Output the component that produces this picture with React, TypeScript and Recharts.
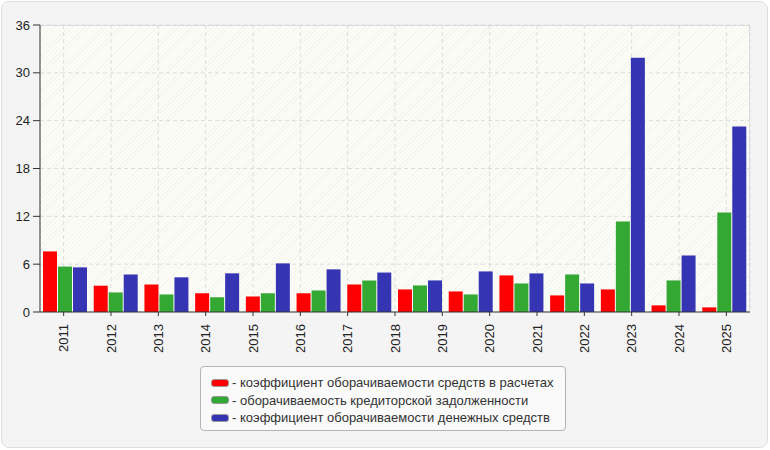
import { Bar, BarChart, CartesianGrid, XAxis, YAxis } from 'recharts';

const years = ['2011', '2012', '2013', '2014', '2015', '2016', '2017', '2018', '2019', '2020', '2021', '2022', '2023', '2024', '2025'];

// the source chart draws 14 bar groups under 15 year labels
const settlementTurnover = [7.6, 3.3, 3.45, 2.35, 1.95, 2.35, 3.45, 2.83, 2.58, 4.59, 2.08, 2.83, 0.83, 0.58];
const payablesTurnover = [5.7, 2.45, 2.2, 1.85, 2.35, 2.7, 3.95, 3.33, 2.2, 3.58, 4.71, 11.35, 3.96, 12.48];
const cashTurnover = [5.6, 4.7, 4.35, 4.85, 6.1, 5.35, 4.95, 3.96, 5.09, 4.84, 3.58, 31.9, 7.09, 23.26];

const yTicks = [0, 6, 12, 18, 24, 30, 36];

const series = [
  { key: 'settlement', name: 'коэффициент оборачиваемости средств в расчетах', color: '#ff0000', values: settlementTurnover },
  { key: 'payables', name: 'оборачиваемость кредиторской задолженности', color: '#33a833', values: payablesTurnover },
  { key: 'cash', name: 'коэффициент оборачиваемости денежных средств', color: '#3535b4', values: cashTurnover },
];

const rows = settlementTurnover.map((_, i) => ({
  idx: i,
  settlement: settlementTurnover[i],
  payables: payablesTurnover[i],
  cash: cashTurnover[i],
}));

const FONT = '"Liberation Sans", Arial, sans-serif';

const YearTick = (props: any) => {
  const { x, y, payload } = props;
  return (
    <text
      x={0}
      y={0}
      transform={`translate(${x},${y + 6}) rotate(-90)`}
      textAnchor="end"
      dy="0.35em"
      fontSize={13}
      fontFamily={FONT}
      fill="#222"
    >
      {years[payload.value]}
    </text>
  );
};

export default function App() {
  return (
    <div style={{ position: 'absolute', left: 0, top: 0, width: 770, height: 450, background: '#fff', fontFamily: FONT }}>
      <div
        style={{
          position: 'absolute',
          left: 1,
          top: 1,
          width: 765,
          height: 445,
          background: '#f4f4f4',
          border: '1px solid #dedede',
          borderRadius: 8,
        }}
      />
      {/* hatched plot background */}
      <div
        style={{
          position: 'absolute',
          left: 40,
          top: 25,
          width: 709,
          height: 287,
          borderTop: '1px solid #dddddd',
          borderRight: '1px solid #dddddd',
          background: 'repeating-linear-gradient(-45deg, #fdfdf8 0px, #fdfdf8 2px, #f5f5f0 2px, #f5f5f0 3px)',
        }}
      />
      <div style={{ position: 'absolute', left: 0, top: 0 }}>
        <BarChart
          width={770}
          height={450}
          data={rows}
          margin={{ top: 25, right: 20, left: 0, bottom: 98 }}
          barSize={14}
          barGap={1}
        >
          <CartesianGrid xAxisId="labels" stroke="#dcdcdc" strokeDasharray="4 3" />
          <XAxis xAxisId="bars" dataKey="idx" type="category" orientation="top" height={0} hide />
          <XAxis
            xAxisId="labels"
            dataKey="idx"
            type="number"
            domain={[-0.5, 14.5]}
            allowDataOverflow
            ticks={years.map((_, i) => i)}
            interval={0}
            height={40}
            tick={<YearTick />}
            tickSize={4}
            axisLine={{ stroke: '#333' }}
            tickLine={{ stroke: '#333' }}
          />
          <YAxis
            domain={[0, 36]}
            ticks={yTicks}
            width={40}
            tickSize={7}
            tickMargin={3}
            interval={0}
            axisLine={{ stroke: '#333' }}
            tickLine={{ stroke: '#333' }}
            tick={{ fontSize: 13, fill: '#222', fontFamily: FONT }}
          />
          {series.map((s) => (
            <Bar key={s.key} xAxisId="bars" dataKey={s.key} name={s.name} fill={s.color} isAnimationActive={false} />
          ))}
        </BarChart>
      </div>
      <div
        style={{
          position: 'absolute',
          left: 200,
          top: 366,
          width: 366,
          height: 65,
          boxSizing: 'border-box',
          background: '#fafafa',
          border: '1px solid #b4b4b4',
          borderRadius: 4,
          paddingTop: 7,
          paddingLeft: 10,
        }}
      >
        {series.map((s) => (
          <div key={s.key} style={{ display: 'flex', alignItems: 'center', height: 17.5, fontSize: 13, color: '#333', whiteSpace: 'nowrap' }}>
            <span
              style={{
                display: 'inline-block',
                width: 18,
                height: 8,
                boxSizing: 'border-box',
                background: s.color,
                border: '1px solid #999',
                borderRadius: 3,
                marginRight: 3,
              }}
            />
            <span>- {s.name}</span>
          </div>
        ))}
      </div>
    </div>
  );
}
